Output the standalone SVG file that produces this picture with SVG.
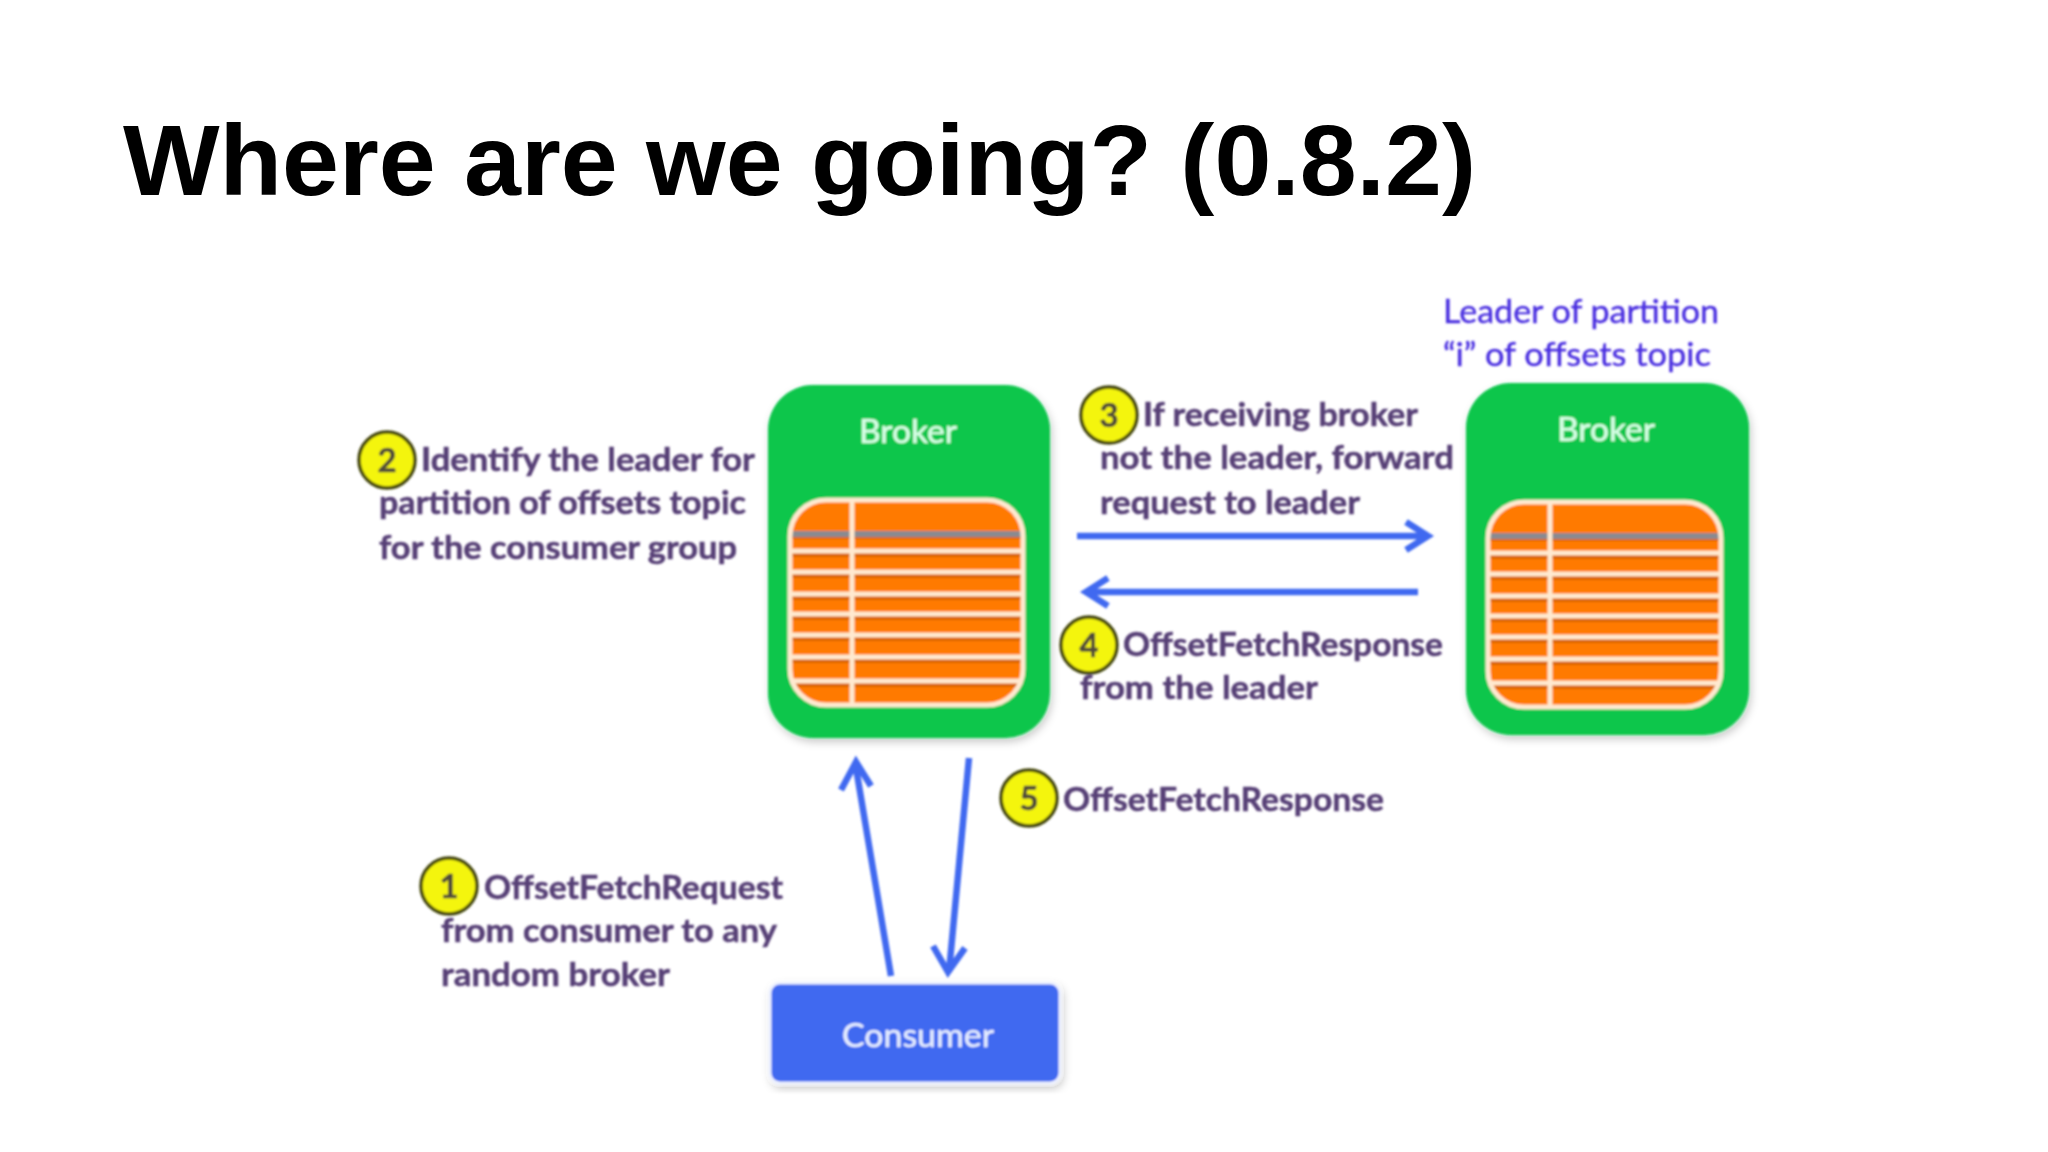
<svg xmlns="http://www.w3.org/2000/svg" width="2048" height="1152" viewBox="0 0 2048 1152">
<style>
.t{font-family:Lato,"Noto Sans",sans-serif;font-size:33px;font-weight:700;fill:#563f76;stroke:#563f76;stroke-width:.5}
.l{font-family:Lato,"Noto Sans",sans-serif;font-size:33px;font-weight:400;fill:#4a2fe0;stroke:#4a2fe0;stroke-width:.4}
.w{font-family:Lato,"Noto Sans",sans-serif;font-size:33px;font-weight:400;fill:#d8ffe6;stroke:#d8ffe6;stroke-width:.5;text-anchor:middle}
.n{font-family:Lato,"Noto Sans",sans-serif;font-size:33px;font-weight:700;fill:#4f4a3a;stroke:#4f4a3a;stroke-width:.5;text-anchor:middle}
.c{fill:#f4f510;stroke:#45470f;stroke-width:3.5}
.b{fill:#08c64c}
.o{fill:#ff7a05}
.g{stroke:#ffe9d0;stroke-width:5;fill:none}
.a{stroke:#4169f0;stroke-width:6.5;fill:none}
</style>
<defs>
<filter id="s" x="-10%" y="-10%" width="120%" height="120%"><feGaussianBlur stdDeviation="1"/></filter>
<filter id="d" x="-10%" y="-10%" width="120%" height="120%"><feDropShadow dx="2" dy="4" stdDeviation="4" flood-color="#000" flood-opacity="0.22"/></filter>
<clipPath id="tc"><rect x="0" y="0" width="233" height="205" rx="36"/></clipPath>
<g id="table">
<rect class="o" x="0" y="0" width="233" height="205" rx="36"/>
<g clip-path="url(#tc)">
<path d="M0 37h233M0 55h233M0 76h233M0 98h233M0 118h233M0 139h233M0 161h233M0 185h233" stroke="#d96500" stroke-width="4" fill="none"/>
<path d="M0 34h233" stroke="#8a8a90" stroke-width="6"/>
<path class="g" d="M0 51h233M0 72h233M0 94h233M0 114h233M0 135h233M0 157h233M0 181h233M62 0v205"/>
</g>
<rect x="0" y="0" width="233" height="205" rx="36" fill="none" stroke="#ffe9d0" stroke-width="5"/>
</g>
</defs>
<rect width="2048" height="1152" fill="#fff"/>
<text id="title" x="123" y="195" font-family="Liberation Sans, Arial, sans-serif" font-size="100" font-weight="700" fill="#000" textLength="1353" lengthAdjust="spacingAndGlyphs">Where are we going? (0.8.2)</text>
<g filter="url(#s)">
<g id="connectors">
<path class="a" d="M1077 536H1426M1406 522l22 14l-22 14"/>
<path class="a" d="M1418 592H1087M1108 578l-22 14l22 14"/>
<path class="a" d="M891 976L855 762M841 790l15 -28l15 24"/>
<path class="a" d="M969 758L949 972M933 946l15 26l17 -24"/>
</g>
<g id="broker1">
<rect class="b" x="768" y="385" width="282" height="353" rx="45" filter="url(#d)"/>
<text class="w" x="908" y="443" textLength="98" lengthAdjust="spacingAndGlyphs">Broker</text>
<use href="#table" x="790" y="500"/>
</g>
<g id="broker2">
<rect class="b" x="1466" y="383" width="283" height="352" rx="45" filter="url(#d)"/>
<text class="w" x="1606" y="441" textLength="98" lengthAdjust="spacingAndGlyphs">Broker</text>
<use href="#table" x="1488" y="502"/>
</g>
<g id="consumer">
<rect x="770" y="983" width="290" height="100" rx="10" fill="#4169f0" stroke="#eef2ff" stroke-width="3" filter="url(#d)"/>
<text class="w" x="918" y="1047" style="fill:#e4ecff;stroke:#e4ecff" textLength="152" lengthAdjust="spacingAndGlyphs">Consumer</text>
</g>
<g id="leader-note">
<text class="l" x="1443" y="323" textLength="276" lengthAdjust="spacingAndGlyphs">Leader of partition</text>
<text class="l" x="1443" y="366" textLength="268" lengthAdjust="spacingAndGlyphs">“i” of offsets topic</text>
</g>
<g id="step1">
<circle class="c" cx="449" cy="886" r="28"/><text class="n" x="449" y="898">1</text>
<text class="t" x="484" y="899" textLength="299" lengthAdjust="spacingAndGlyphs">OffsetFetchRequest</text>
<text class="t" x="441" y="942" textLength="336" lengthAdjust="spacingAndGlyphs">from consumer to any</text>
<text class="t" x="441" y="986" textLength="229" lengthAdjust="spacingAndGlyphs">random broker</text>
</g>
<g id="step2">
<circle class="c" cx="387" cy="460" r="28"/><text class="n" x="387" y="472">2</text>
<text class="t" x="421" y="471" textLength="334" lengthAdjust="spacingAndGlyphs">Identify the leader for</text>
<text class="t" x="379" y="514" textLength="367" lengthAdjust="spacingAndGlyphs">partition of offsets topic</text>
<text class="t" x="379" y="559" textLength="358" lengthAdjust="spacingAndGlyphs">for the consumer group</text>
</g>
<g id="step3">
<circle class="c" cx="1109" cy="415" r="28"/><text class="n" x="1109" y="427">3</text>
<text class="t" x="1143" y="426" textLength="275" lengthAdjust="spacingAndGlyphs">If receiving broker</text>
<text class="t" x="1100" y="469" textLength="354" lengthAdjust="spacingAndGlyphs">not the leader, forward</text>
<text class="t" x="1100" y="514" textLength="260" lengthAdjust="spacingAndGlyphs">request to leader</text>
</g>
<g id="step4">
<circle class="c" cx="1089" cy="645" r="28"/><text class="n" x="1089" y="657">4</text>
<text class="t" x="1123" y="656" textLength="320" lengthAdjust="spacingAndGlyphs">OffsetFetchResponse</text>
<text class="t" x="1080" y="699" textLength="238" lengthAdjust="spacingAndGlyphs">from the leader</text>
</g>
<g id="step5">
<circle class="c" cx="1029" cy="798" r="28"/><text class="n" x="1029" y="810">5</text>
<text class="t" x="1063" y="811" textLength="321" lengthAdjust="spacingAndGlyphs">OffsetFetchResponse</text>
</g>
</g>
</svg>
